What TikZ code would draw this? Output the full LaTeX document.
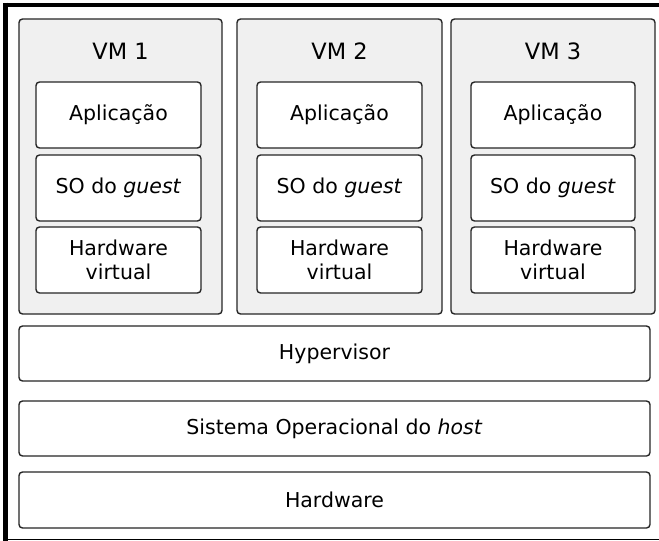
\documentclass[tikz,border=0pt]{standalone}
\usepackage{fontspec}
\setmainfont{DejaVu Sans}
\begin{document}
\begin{tikzpicture}[x=1pt,y=-1pt,
  base/.style={draw=black!85, line width=1.4pt, rounded corners=3.5pt, inner sep=0pt, outer sep=0pt, align=center, font=\fontsize{20.5}{24.5}\selectfont},
  vmbox/.style={base, fill=black!6},
  layer/.style={base, fill=white},
  vmlabel/.style={font=\fontsize{22.5}{27}\selectfont, inner sep=0pt, anchor=base}
]
\useasboundingbox (0,0) rectangle (659,541);
\fill[white] (0,0) rectangle (659,541);
% outer frame (partially cropped)
\draw[line width=4.8pt] (3,5) -- (659,5);
\draw[line width=4.8pt] (5.8,2.6) -- (5.8,541);
\draw[line width=1.5pt] (3,539.3) -- (659,539.3);

% VM containers
\foreach \n/\l/\r/\il/\ir in {1/19/222/36/201, 2/237/442/257/422, 3/451/655/471/635}{
  \node[vmbox, minimum width={\r-\l}, minimum height=295] (vm\n) at ({(\l+\r)/2},166.5) {};
  \node[vmlabel] (vml\n) at ({(\l+\r)/2},59) {VM \n};
  \node[layer, minimum width={\ir-\il}, minimum height=66] (app\n) at ({(\il+\ir)/2},115) {Aplicação};
  \node[layer, minimum width={\ir-\il}, minimum height=66] (so\n) at ({(\il+\ir)/2},188) {SO do \textit{guest}};
  \node[layer, minimum width={\ir-\il}, minimum height=66] (hv\n) at ({(\il+\ir)/2},260) {Hardware\\virtual};
}

% bottom layers
\node[layer, minimum width=631, minimum height=55] (hyp) at (334.5,353.5) {Hypervisor};
\node[layer, minimum width=631, minimum height=55] (host) at (334.5,428.5) {Sistema Operacional do \textit{host}};
\node[layer, minimum width=631, minimum height=56] (hw) at (334.5,500) {Hardware};
\end{tikzpicture}
\end{document}
